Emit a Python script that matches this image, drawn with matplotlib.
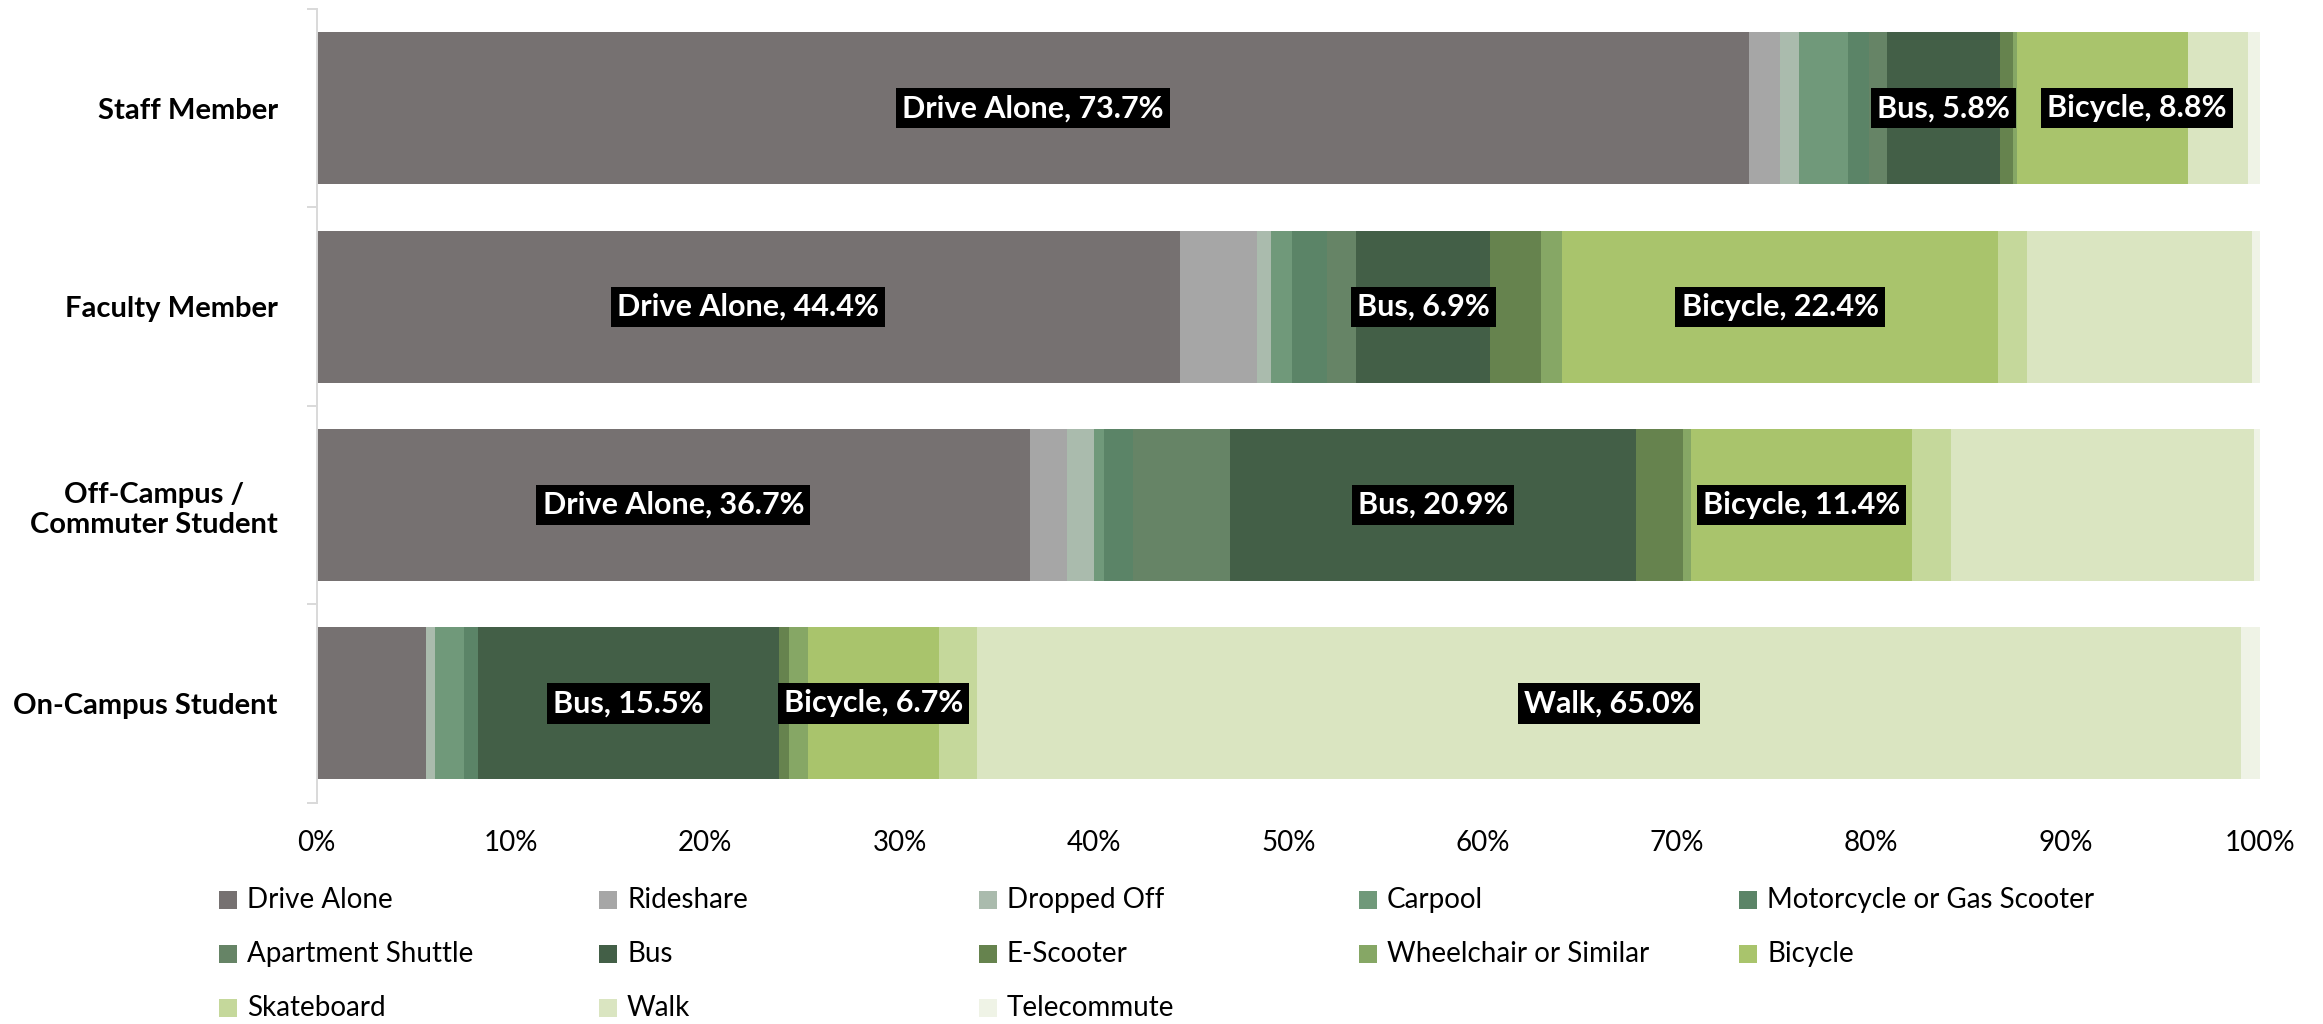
import matplotlib
matplotlib.use("Agg")
import matplotlib.pyplot as plt
from matplotlib.patches import Rectangle
from matplotlib.ticker import FixedLocator, PercentFormatter

# ---------------- data ----------------
categories = ["Staff Member", "Faculty Member", "Off-Campus /\nCommuter Student", "On-Campus Student"]

modes = ["Drive Alone", "Rideshare", "Dropped Off", "Carpool", "Motorcycle or Gas Scooter",
         "Apartment Shuttle", "Bus", "E-Scooter", "Wheelchair or Similar", "Bicycle",
         "Skateboard", "Walk", "Telecommute"]

drive_alone = [73.7, 44.4, 36.7, 5.6]
rideshare = [1.6, 4.0, 1.9, 0.0]
dropped_off = [1.0, 0.7, 1.4, 0.5]
carpool = [2.5, 1.1, 0.5, 1.5]
motorcycle = [1.1, 1.8, 1.5, 0.7]
apartment_shuttle = [0.9, 1.5, 5.0, 0.0]
bus = [5.8, 6.9, 20.9, 15.5]
e_scooter = [0.7, 2.6, 2.4, 0.5]
wheelchair = [0.2, 1.1, 0.4, 1.0]
bicycle = [8.8, 22.4, 11.4, 6.7]
skateboard = [0.0, 1.5, 2.0, 2.0]
walk = [3.1, 11.6, 15.6, 65.0]
telecommute = [0.6, 0.4, 0.3, 1.0]

series = [drive_alone, rideshare, dropped_off, carpool, motorcycle, apartment_shuttle, bus,
          e_scooter, wheelchair, bicycle, skateboard, walk, telecommute]

colors = ["#767171", "#A6A6A6", "#AABBAD", "#70997A", "#5B8467", "#668466", "#435F47",
          "#66834E", "#86A765", "#A9C46C", "#C5D89B", "#DAE5C1", "#EFF3E6"]

# which segments carry a data label (per category)
labeled = {
    "Drive Alone": [True, True, True, False],
    "Bus": [True, True, True, True],
    "Bicycle": [True, True, True, True],
    "Walk": [False, False, False, True],
}

x_ticks = [0, 10, 20, 30, 40, 50, 60, 70, 80, 90, 100]

# ---------------- figure ----------------
plt.rcParams["font.family"] = ["Lato", "DejaVu Sans"]
W, H = 2323, 1024
fig = plt.figure(figsize=(W / 100, H / 100), dpi=100)
ax = fig.add_axes([316.7 / W, 1 - 802.7 / H, (2260 - 316.7) / W, (802.7 - 9) / H])

ypos = list(range(len(categories)))
left = [0.0] * len(categories)
bar_h = 0.766
row_labels = {i: [] for i in ypos}
for name, vals, col in zip(modes, series, colors):
    ax.barh(ypos, vals, left=left, height=bar_h, color=col, edgecolor="none", label=name)
    if name in labeled:
        for i, (v, l0) in enumerate(zip(vals, left)):
            if labeled[name][i]:
                t = ax.text(l0 + v / 2, ypos[i], f"{name}, {v:.1f}%", ha="center", va="center",
                            color="white", fontsize=22, fontweight="bold",
                            bbox=dict(boxstyle="square,pad=0.2", facecolor="black", edgecolor="none"))
                row_labels[i].append(t)
    left = [a + b for a, b in zip(left, vals)]

ax.set_xlim(0, 100)
ax.set_ylim(len(categories) - 0.5, -0.5)
ax.xaxis.set_major_locator(FixedLocator(x_ticks))
ax.xaxis.set_major_formatter(PercentFormatter(decimals=0))
ax.tick_params(axis="x", length=0, labelsize=20, pad=20, colors="black")

ax.set_yticks(ypos)
ax.set_yticklabels(categories, fontsize=21, fontweight="bold")
for t in ax.get_yticklabels():
    t.set_multialignment("center")
ax.tick_params(axis="y", which="major", length=0, pad=28)
ax.yaxis.set_minor_locator(FixedLocator([y - 0.5 for y in range(len(categories) + 1)]))
ax.tick_params(axis="y", which="minor", length=7.2, width=1.4, color="#D9D9D9")

for s in ["top", "right", "bottom"]:
    ax.spines[s].set_visible(False)
ax.spines["left"].set_color("#D9D9D9")
ax.spines["left"].set_linewidth(1.4)

# nudge data labels that would overlap the previous one in the same bar (as Excel does)
fig.canvas.draw()
renderer = fig.canvas.get_renderer()
gap_px = 25
for i, texts in row_labels.items():
    prev_right = None
    for t in texts:
        bb = t.get_bbox_patch().get_window_extent(renderer)
        if prev_right is not None and bb.x0 < prev_right + gap_px:
            shift = prev_right + gap_px - bb.x0
            x_disp, y_disp = ax.transData.transform(t.get_position())
            new_x = ax.transData.inverted().transform((x_disp + shift, y_disp))[0]
            t.set_x(new_x)
            fig.canvas.draw()
            bb = t.get_bbox_patch().get_window_extent(renderer)
        prev_right = bb.x1

# ---------------- legend (Excel-like grid, 5 columns) ----------------
col_x = 219
col_step = 380
row_y = 900
row_step = 54
msize = 18
for i, (name, col) in enumerate(zip(modes, colors)):
    r, c = divmod(i, 5)
    x = col_x + c * col_step
    yc = row_y + r * row_step
    fig.add_artist(Rectangle((x / W, 1 - (yc + msize / 2) / H), msize / W, msize / H,
                             transform=fig.transFigure, facecolor=col, edgecolor="none"))
    fig.text((x + msize + 10) / W, 1 - yc / H, name, ha="left", va="center",
             fontsize=20, color="black")

fig.savefig("out.png", dpi=100, facecolor="white")
